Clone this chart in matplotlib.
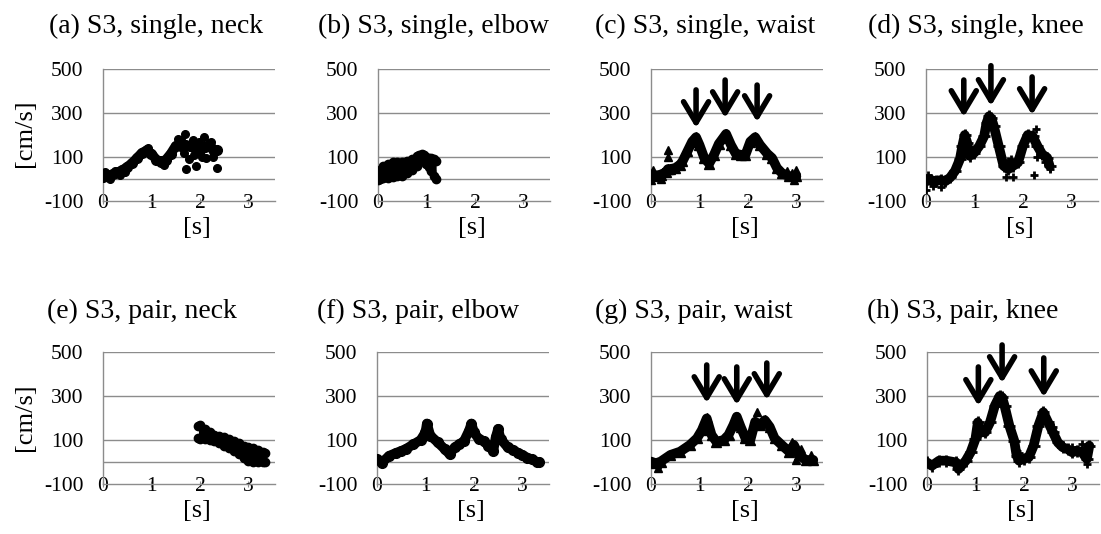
import matplotlib
matplotlib.use("Agg")
import matplotlib.pyplot as plt

plt.rcParams["font.family"] = ["Liberation Serif", "DejaVu Serif"]
plt.rcParams["axes.unicode_minus"] = False

# ---- data (time [s], speed [cm/s]) ----
# (a) single, neck
a_t = [0, 0.1, 0.2, 0.3, 0.4, 0.5, 0.6, 0.7, 0.8, 0.9, 1.0, 1.1, 1.2, 1.3, 1.4,
       1.5, 1.6, 1.7, 1.8, 1.9, 2.0, 2.1, 2.2, 2.3, 2.35]
a_v = [10, 15, 22, 30, 40, 55, 72, 95, 118, 130, 115, 88, 78, 88, 115,
       150, 150, 155, 150, 140, 130, 145, 150, 125, 130]
a_xt = [0.05, 0.15, 0.25, 0.35, 0.45, 1.55, 1.62, 1.68, 1.70, 1.72, 1.78, 1.85,
        1.88, 1.92, 1.98, 2.05, 2.08, 2.12, 2.18, 2.22, 2.28, 2.35, 0.92, 1.25]
a_xv = [30, 0, 35, 20, 30, 180, 175, 120, 205, 45, 90, 175,
        110, 60, 170, 100, 190, 95, 165, 170, 100, 50, 140, 65]

# (b) single, elbow (upper / lower edge of the point cloud)
b_t = [0, 0.05, 0.1, 0.2, 0.3, 0.4, 0.5, 0.6, 0.7, 0.8, 0.85, 0.9, 0.95, 1.0,
       1.05, 1.1, 1.15, 1.2]
b_hi = [10, 40, 60, 70, 78, 75, 75, 80, 90, 105, 110, 112, 110, 100, 95, 95, 90, 80]
b_lo = [-5, 0, 5, 5, 8, 12, 15, 25, 40, 60, 80, 80, 80, 70, 55, 35, 15, 0]

# (c) single, waist
c_t = [0, 0.1, 0.2, 0.3, 0.35, 0.4, 0.5, 0.6, 0.65, 0.75, 0.85, 0.93, 1.0, 1.1,
       1.2, 1.3, 1.4, 1.5, 1.55, 1.65, 1.75, 1.85, 1.95, 2.05, 2.15, 2.25, 2.4,
       2.5, 2.6, 2.7, 2.85, 3.0]
c_v = [20, 15, 20, 30, 45, 45, 50, 65, 80, 125, 170, 190, 155, 95,
       70, 110, 160, 190, 205, 155, 115, 110, 110, 170, 190, 155, 115,
       95, 50, 27, 12, 12]
c_xt = [0.0, 0.05, 0.35, 0.36, 0.2, 2.8, 2.9, 3.0, 2.95]
c_xv = [-5, 40, 130, 100, 0, 35, 25, 40, -5]

# (d) single, knee
d_t = [0, 0.1, 0.2, 0.3, 0.4, 0.5, 0.6, 0.7, 0.75, 0.8, 0.85, 0.9, 1.0, 1.1,
       1.2, 1.25, 1.3, 1.35, 1.4, 1.5, 1.6, 1.7, 1.8, 1.9, 2.0, 2.1, 2.2, 2.3,
       2.4, 2.5, 2.55]
d_v = [-10, -5, -10, -5, -10, 7, 37, 90, 150, 200, 165, 105, 120, 150,
       195, 255, 285, 275, 240, 150, 60, 45, 60, 75, 150, 200, 195, 150,
       112, 97, 60]
d_xt = [0.0, 0.05, 0.15, 0.3, 1.65, 1.75, 1.8, 1.7, 2.28, 2.22, 2.3, 2.45, 2.55]
d_xv = [-50, 20, -30, -35, 10, 90, 10, 80, 225, 20, 100, 75, 45]

# (e) pair, neck (upper / lower edge)
e_t = [1.97, 2.0, 2.1, 2.2, 2.3, 2.4, 2.5, 2.6, 2.7, 2.8, 2.9, 3.0, 3.1, 3.2,
       3.3, 3.35]
e_hi = [165, 170, 150, 135, 125, 120, 115, 105, 95, 85, 75, 70, 65, 55, 45, 40]
e_lo = [110, 105, 105, 100, 95, 85, 75, 65, 50, 35, 20, 5, 0, 0, 0, 0]

# (f) pair, elbow
f_t = [0, 0.1, 0.25, 0.4, 0.5, 0.6, 0.75, 0.9, 1.0, 1.03, 1.1, 1.25, 1.4, 1.5,
       1.6, 1.7, 1.8, 1.9, 1.95, 2.0, 2.1, 2.2, 2.3, 2.4, 2.45, 2.5, 2.55, 2.7,
       2.8, 2.9, 3.0, 3.1, 3.2, 3.3, 3.35]
f_v = [12, -3, 28, 42, 50, 60, 80, 100, 135, 175, 120, 90, 58, 35,
       66, 80, 97, 143, 175, 135, 105, 95, 74, 50, 112, 150, 105, 66,
       55, 43, 32, 20, 12, 0, 0]

# (g) pair, waist
g_t = [0, 0.1, 0.2, 0.4, 0.6, 0.8, 0.95, 1.05, 1.15, 1.25, 1.35, 1.5, 1.6, 1.7,
       1.77, 1.85, 1.95, 2.05, 2.15, 2.25, 2.35, 2.45, 2.55, 2.7, 2.85, 2.95,
       3.05, 3.2, 3.35]
g_v = [2, -6, 2, 32, 47, 77, 108, 145, 198, 123, 92, 100, 123, 168,
       206, 160, 108, 100, 183, 168, 190, 160, 108, 77, 47, 77,
       32, 9, 9]
g_xt = [2.18, 0.15, 2.9, 3.0, 3.1, 3.3]
g_xv = [228, -25, 90, 10, 60, 30]

# (h) pair, knee
h_t = [0, 0.1, 0.25, 0.4, 0.6, 0.65, 0.8, 0.9, 1.0, 1.05, 1.1, 1.2, 1.3, 1.4,
       1.5, 1.55, 1.6, 1.7, 1.8, 1.85, 1.9, 2.0, 2.1, 2.2, 2.3, 2.4, 2.5, 2.6,
       2.7, 2.8, 2.9, 3.0, 3.1, 3.2, 3.3, 3.35]
h_v = [-2, -17, 6, 6, -2, -32, 6, 44, 105, 180, 135, 135, 180, 256,
       300, 294, 256, 165, 97, 29, 6, 14, 21, 74, 165, 226, 180, 135,
       89, 67, 59, 44, 52, 44, 14, 74]
h_xt = [1.85, 1.9, 2.6, 3.0, 3.2, 3.3]
h_xv = [50, 40, 160, 70, 80, -10]

# arrows: time, start value, tip value
c_arrow_t, c_arrow_top, c_arrow_tip = [0.93, 1.53, 2.19], [405, 450, 427], [232, 277, 259]
d_arrow_t, d_arrow_top, d_arrow_tip = [0.78, 1.34, 2.19], [450, 515, 464], [282, 332, 291]
g_arrow_t, g_arrow_top, g_arrow_tip = [1.15, 1.77, 2.39], [441, 432, 450], [268, 259, 282]
h_arrow_t, h_arrow_top, h_arrow_tip = [1.06, 1.55, 2.41], [432, 532, 473], [255, 359, 295]

titles = ["(a) S3, single, neck", "(b) S3, single, elbow", "(c) S3, single, waist",
          "(d) S3, single, knee", "(e) S3, pair, neck", "(f) S3, pair, elbow",
          "(g) S3, pair, waist", "(h) S3, pair, knee"]
ytick_vals = [-100, 100, 300, 500]
ytick_labels = ["-100", "100", "300", "500"]
xtick_vals = [0, 1, 2, 3]

W, H = 1101, 534
fig = plt.figure(figsize=(W / 100, H / 100), dpi=100)

# pixel layout of the 8 panels (left, top, bottom) and title left x
lefts = [103, 378, 651, 926, 103, 377, 651, 927]
tops = [69] * 4 + [352] * 4
bottoms = [201] * 4 + [484] * 4
title_x = [49, 318, 595, 868, 47, 317, 595, 867]
title_base = [33] * 4 + [318] * 4
AX_W = 172
GRID = "#8c8c8c"

axes = []
for i in range(8):
    ax = fig.add_axes([lefts[i] / W, 1 - bottoms[i] / H, AX_W / W,
                       (bottoms[i] - tops[i]) / H])
    ax.set_xlim(0, 3.55)
    ax.set_ylim(-100, 500)
    ax.set_yticks(ytick_vals)
    ax.set_yticklabels(ytick_labels, fontsize=15.5)
    ax.set_xticks(xtick_vals)
    ax.set_xticklabels([str(v) for v in xtick_vals], fontsize=15.5, va="center")
    ax.tick_params(axis="y", length=0, pad=14)
    ax.tick_params(axis="x", length=4, direction="inout", color=GRID, pad=-0.5)
    for yv in [0, 100, 300, 500]:
        ax.axhline(yv, color=GRID, lw=1, zorder=0)
    for s in ["top", "right"]:
        ax.spines[s].set_visible(False)
    for s in ["left", "bottom"]:
        ax.spines[s].set_color(GRID)
        ax.spines[s].set_linewidth(1)
    ax.set_xlabel("[s]", fontsize=19, va="center")
    ax.xaxis.set_label_coords(1.94 / 3.55, -27 / 132)
    fig.text(title_x[i] / W, 1 - title_base[i] / H, titles[i], fontsize=20,
             ha="left", va="baseline")
    axes.append(ax)

for ax, yc in [(axes[0], 133), (axes[4], 417)]:
    fig.text(25 / W, 1 - yc / H, "[cm/s]", fontsize=19, rotation=90,
             ha="center", va="center")

K = "black"


def cloud(ax, t, v, marker, ms, lw=7, mew=1.0):
    ax.plot(t, v, color=K, lw=lw, marker=marker, ms=ms, mew=mew,
            solid_capstyle="round", solid_joinstyle="round", zorder=3)


def extras(ax, t, v, marker, ms, mew=1.0):
    ax.plot(t, v, ls="none", color=K, marker=marker, ms=ms, mew=mew, zorder=3)


def band(ax, t, hi, lo, marker, ms):
    ax.fill_between(t, lo, hi, color=K, lw=0, zorder=3)
    cloud(ax, t, hi, marker, ms, lw=2)
    cloud(ax, t, lo, marker, ms, lw=2)


def arrows(ax, ts, tops_, tips):
    for t, a, b in zip(ts, tops_, tips):
        ax.annotate("", xy=(t, b), xytext=(t, a), annotation_clip=False,
                    arrowprops=dict(arrowstyle="->,head_length=0.75,head_width=0.45",
                                    color=K, lw=4, mutation_scale=20,
                                    shrinkA=0, shrinkB=0))


cloud(axes[0], a_t, a_v, "o", 7)
extras(axes[0], a_xt, a_xv, "o", 5.5)
band(axes[1], b_t, b_hi, b_lo, "o", 6)
cloud(axes[2], c_t, c_v, "^", 7)
extras(axes[2], c_xt, c_xv, "^", 5.5)
arrows(axes[2], c_arrow_t, c_arrow_top, c_arrow_tip)
cloud(axes[3], d_t, d_v, "+", 8, mew=2)
extras(axes[3], d_xt, d_xv, "+", 6, mew=2)
arrows(axes[3], d_arrow_t, d_arrow_top, d_arrow_tip)
band(axes[4], e_t, e_hi, e_lo, "o", 6)
cloud(axes[5], f_t, f_v, "o", 7)
cloud(axes[6], g_t, g_v, "^", 7)
extras(axes[6], g_xt, g_xv, "^", 5.5)
arrows(axes[6], g_arrow_t, g_arrow_top, g_arrow_tip)
cloud(axes[7], h_t, h_v, "+", 8, mew=2)
extras(axes[7], h_xt, h_xv, "+", 6, mew=2)
arrows(axes[7], h_arrow_t, h_arrow_top, h_arrow_tip)

fig.savefig("out.png", dpi=100)
